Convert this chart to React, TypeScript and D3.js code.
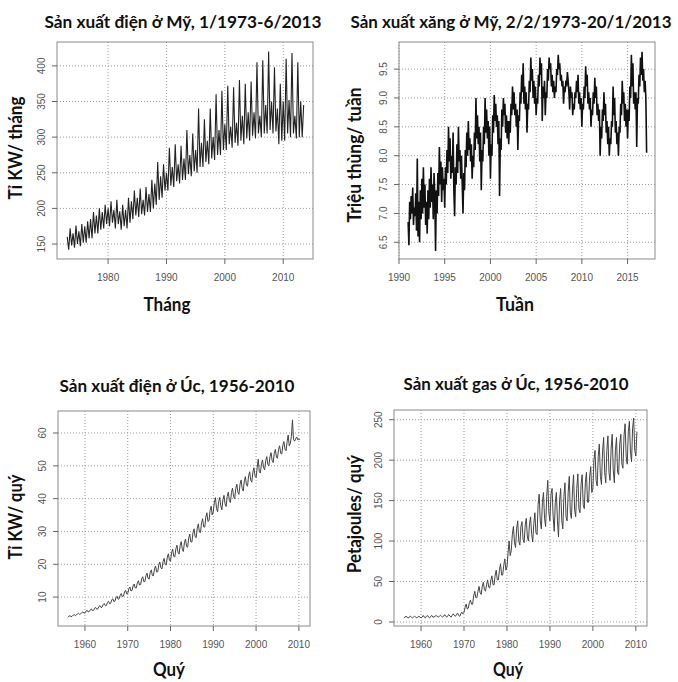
import React from 'react';
import * as d3 from 'd3';

// US electricity, quarterly samples (Jan, Apr, Jul, Oct) from 1973
const elecUS = [
  160, 142, 172, 148, 165, 145, 176, 150, 168, 147, 178, 152, 175, 152, 182, 158,
  185, 158, 195, 165, 190, 165, 200, 170, 195, 172, 205, 178, 200, 175, 210, 180,
  198, 172, 212, 178, 196, 170, 205, 175, 198, 172, 215, 180, 210, 185, 225, 190,
  215, 188, 228, 192, 212, 190, 230, 195, 220, 195, 240, 200, 235, 205, 265, 212,
  245, 215, 262, 225, 250, 225, 285, 232, 258, 230, 290, 238, 262, 235, 288, 240,
  270, 240, 310, 248, 275, 245, 305, 252, 282, 250, 340, 258, 292, 258, 325, 265,
  295, 262, 340, 270, 300, 268, 360, 275, 310, 275, 365, 282, 318, 282, 372, 290,
  315, 285, 370, 292, 320, 288, 380, 295, 330, 290, 375, 298, 335, 295, 378, 302,
  335, 298, 405, 305, 330, 300, 408, 305, 345, 305, 420, 310, 350, 305, 398, 308,
  340, 290, 375, 295, 350, 295, 410, 305, 352, 300, 418, 305, 330, 298, 405, 300,
  350, 300, 345,
];

// US gasoline, monthly samples from 1991
const gasUS = [
  6.85, 6.45, 7.2, 6.9, 7.3, 7.0, 7.45, 6.8, 7.1, 6.95, 7.35, 6.7,
  7.95, 6.6, 7.2, 6.5, 7.4, 6.9, 7.6, 7.0, 7.8, 7.1, 7.5, 6.8,
  7.2, 6.65, 7.4, 6.9, 7.6, 7.1, 7.8, 7.2, 7.5, 6.9, 7.7, 7.3,
  6.35, 7.4, 7.0, 7.7, 7.3, 8.15, 7.5, 7.9, 7.2, 7.8, 7.4, 7.6,
  7.1, 7.8, 7.5, 8.1, 7.7, 8.5, 7.9, 8.3, 7.6, 8.0, 7.7, 8.4,
  7.4, 6.95, 7.8, 7.5, 8.2, 7.7, 8.5, 7.9, 8.1, 7.6, 8.0, 7.5,
  7.0, 7.7, 7.4, 8.1, 7.8, 8.4, 8.0, 8.6, 8.1, 8.3, 7.9, 8.2,
  7.6, 8.0, 7.8, 8.4, 8.1, 9.0, 8.3, 8.7, 8.2, 8.5, 7.9, 8.4,
  7.4, 8.1, 7.9, 8.5, 8.2, 9.0, 8.4, 8.8, 8.3, 8.6, 8.0, 8.5,
  7.6, 8.2, 8.0, 8.7, 8.4, 9.05, 8.6, 8.9, 8.5, 8.7, 8.2, 8.6,
  7.3, 8.3, 8.1, 8.8, 8.5, 9.0, 8.7, 8.9, 8.4, 8.7, 8.3, 8.6,
  8.2, 8.6, 8.4, 8.9, 8.7, 9.2, 8.8, 9.1, 8.7, 8.9, 8.5, 8.8,
  8.1, 8.7, 8.6, 9.1, 8.9, 9.4, 9.1, 9.6, 8.9, 9.2, 8.8, 9.1,
  8.4, 8.9, 8.8, 9.3, 9.1, 9.7, 9.3, 9.5, 9.0, 9.3, 8.9, 9.2,
  8.7, 9.0, 8.9, 9.4, 9.2, 9.7, 9.4, 9.6, 8.6, 9.2, 9.0, 9.3,
  8.7, 9.1, 9.0, 9.5, 9.3, 9.7, 9.5, 9.6, 9.2, 9.4, 9.1, 9.3,
  9.0, 9.2, 9.1, 9.5, 9.4, 9.75, 9.5, 9.6, 9.3, 9.4, 9.2, 9.3,
  8.9, 9.2, 9.1, 9.3, 9.2, 9.45, 9.3, 9.1, 8.8, 9.2, 9.0, 9.1,
  8.7, 8.9, 8.8, 9.1, 9.0, 9.3, 9.1, 9.4, 8.9, 9.1, 8.8, 9.0,
  8.5, 8.9, 8.8, 9.2, 9.0, 9.55, 9.2, 9.4, 8.9, 9.1, 8.8, 9.0,
  8.5, 8.8, 8.7, 9.1, 8.9, 9.35, 9.0, 9.2, 8.7, 8.9, 8.6, 8.8,
  8.0, 8.5, 8.3, 8.8, 8.6, 9.1, 8.7, 8.9, 8.4, 8.6, 8.2, 8.5,
  8.0, 8.3, 8.2, 8.6, 8.5, 9.2, 8.7, 9.0, 8.4, 8.6, 8.2, 8.4,
  8.0, 8.5, 8.4, 8.9, 8.7, 9.3, 8.9, 9.1, 8.6, 8.9, 8.5, 8.8,
  8.3, 8.8, 8.6, 9.2, 9.0, 9.75, 9.2, 9.6, 8.9, 9.1, 8.8, 9.1,
  8.15, 9.0, 8.9, 9.4, 9.2, 9.7, 9.4, 9.8, 9.3, 9.5, 9.1, 9.3,
  9.0, 8.05,
];

// Australian electricity, quarterly from 1956 Q1
const elecAU = [
  3.85, 4.2, 4.35, 4.05, 4.15, 4.5, 4.65, 4.35, 4.55, 4.9, 5.05, 4.75, 4.9, 5.3, 5.5, 5.15,
  5.2, 5.75, 6.0, 5.5, 5.6, 6.15, 6.4, 5.9, 5.95, 6.6, 6.85, 6.3, 6.4, 7.1, 7.4, 6.8,
  6.95, 7.7, 8.05, 7.4, 7.45, 8.35, 8.75, 7.95, 8.1, 9.1, 9.5, 8.65, 8.75, 9.8, 10.25, 9.35,
  9.5, 10.6, 11.1, 10.15, 10.3, 11.55, 12.1, 11.0, 11.1, 12.5, 13.1, 11.9, 12.0, 13.4, 14.0, 12.8,
  12.8, 14.35, 15.0, 13.7, 13.8, 15.5, 16.2, 14.75, 14.7, 16.5, 17.3, 15.75, 15.5, 17.45, 18.3, 16.6,
  16.5, 18.6, 19.5, 17.7, 17.7, 19.8, 20.7, 18.9, 18.6, 20.85, 21.8, 19.9, 19.8, 22.2, 23.2, 21.15,
  21.0, 23.5, 24.6, 22.45, 22.2, 24.7, 25.8, 23.65, 23.1, 25.75, 26.9, 24.6, 23.9, 26.55, 27.7, 25.4,
  25.2, 28.0, 29.2, 26.8, 26.8, 29.6, 30.8, 28.4, 28.1, 31.05, 32.3, 29.8, 29.7, 32.65, 33.9, 31.4,
  31.3, 34.4, 35.7, 33.05, 33.3, 36.4, 37.7, 35.05, 36.0, 38.9, 40.3, 37.0, 36.0, 39.1, 40.4, 37.8,
  36.6, 39.7, 41.0, 38.4, 37.6, 40.7, 42.0, 39.4, 38.8, 41.9, 43.2, 40.6, 40.0, 43.1, 44.4, 41.8,
  41.3, 44.4, 45.7, 43.1, 42.3, 45.4, 46.7, 44.1, 43.8, 46.9, 48.2, 45.6, 45.0, 48.1, 49.4, 46.8,
  46.4, 49.4, 52.0, 48.2, 47.8, 50.6, 51.8, 49.4, 48.8, 51.6, 52.8, 50.4, 50.0, 52.8, 54.0, 51.6,
  51.0, 53.8, 55.0, 52.6, 52.3, 55.0, 56.1, 53.8, 53.6, 56.3, 57.4, 55.1, 54.6, 57.3, 59.4, 56.1,
  56.8, 59.0, 64.0, 58.0, 57.5, 58.3, 58.8, 57.9, 58.2, 58.0,
];

// Australian gas, quarterly from 1956 Q1
const gasAU = [
  5, 6, 7, 6, 5, 6, 7, 6, 5, 6, 7, 6, 5, 6, 7, 6,
  5, 6, 8, 6, 5, 7, 8, 6, 5, 7, 8, 6, 6, 7, 8, 7,
  6, 7, 8, 7, 6, 7, 9, 7, 6, 8, 9, 7, 6, 8, 10, 8,
  7, 9, 11, 8, 7, 10, 12, 10, 12, 18, 22, 16, 17, 24, 27, 22,
  22, 32, 38, 30, 30, 38, 44, 36, 34, 44, 49, 40, 38, 46, 52, 43,
  42, 52, 57, 46, 46, 58, 64, 52, 52, 64, 72, 58, 58, 70, 78, 64,
  68, 85, 100, 82, 88, 108, 118, 98, 92, 115, 125, 100, 95, 118, 124, 102,
  98, 120, 128, 105, 100, 122, 130, 108, 99, 122, 135, 110, 108, 145, 158, 125,
  115, 148, 160, 128, 118, 155, 175, 135, 125, 158, 165, 130, 112, 148, 160, 125,
  105, 150, 165, 125, 115, 155, 172, 130, 125, 160, 180, 135, 128, 162, 182, 138,
  130, 165, 183, 140, 135, 170, 182, 145, 140, 172, 185, 148, 148, 180, 192, 160,
  165, 200, 212, 175, 168, 205, 220, 180, 170, 210, 228, 185, 172, 212, 230, 185,
  175, 215, 232, 188, 172, 212, 228, 185, 182, 220, 232, 195, 190, 230, 245, 205,
  195, 235, 248, 210, 198, 240, 252, 212, 205, 235,
];

const elecUSTicksX = [1980, 1990, 2000, 2010];
const elecUSTicksY = [150, 200, 250, 300, 350, 400];
const gasUSTicksX = [1990, 1995, 2000, 2005, 2010, 2015];
const gasUSTicksY = [6.5, 7.0, 7.5, 8.0, 8.5, 9.0, 9.5];
const ausTicksX = [1960, 1970, 1980, 1990, 2000, 2010];
const elecAUTicksY = [10, 20, 30, 40, 50, 60];
const gasAUTicksY = [0, 50, 100, 150, 200, 250];

type PanelProps = {
  box: [number, number, number, number];
  xDomain: [number, number];
  yDomain: [number, number];
  values: number[];
  start: number;
  step: number;
  xTicks: number[];
  yTicks: number[];
  yFmt?: (v: number) => string;
  title: string;
  titleX: number;
  titleY: number;
  titleLen: number;
  yLabel: string;
  yLabelX: number;
  yLabelY: number;
  yLabelLen: number;
  xLabel: string;
  xLabelX: number;
  xLabelY: number;
  xLabelLen: number;
  stroke: string;
  strokeWidth: number;
};

const Panel = (p: PanelProps) => {
  const [x0, y0, x1, y1] = p.box;
  const x = d3.scaleLinear().domain(p.xDomain).range([x0, x1]);
  const y = d3.scaleLinear().domain(p.yDomain).range([y1, y0]);
  const line = d3.line<number>()
    .x((_, i) => x(p.start + i * p.step))
    .y(d => y(d));
  const fmt = p.yFmt || ((v: number) => String(v));
  const bold = { fontFamily: 'Lato, "Open Sans", sans-serif', fontWeight: 700 };
  return (
    <g>
      {/* grid */}
      {p.xTicks.map(t => (
        <line key={'gx' + t} x1={x(t)} x2={x(t)} y1={y0} y2={y1}
          stroke="#9a9a9a" strokeDasharray="1 2" />
      ))}
      {p.yTicks.map(t => (
        <line key={'gy' + t} x1={x0} x2={x1} y1={y(t)} y2={y(t)}
          stroke="#9a9a9a" strokeDasharray="1 2" />
      ))}
      <path d={line(p.values) || ''} fill="none" stroke={p.stroke} strokeWidth={p.strokeWidth} />
      <rect x={x0} y={y0} width={x1 - x0} height={y1 - y0} fill="none" stroke="#8a8a8a" />
      {/* ticks */}
      {p.xTicks.map(t => (
        <g key={'tx' + t}>
          <line x1={x(t)} x2={x(t)} y1={y1} y2={y1 + 5} stroke="#666" />
          <text x={x(t)} y={y1 + 22} textAnchor="middle" fontSize={10}
            fontFamily='"Liberation Sans", Arial, sans-serif' fill="#555">{t}</text>
        </g>
      ))}
      {p.yTicks.map(t => (
        <g key={'ty' + t}>
          <line x1={x0 - 5} x2={x0} y1={y(t)} y2={y(t)} stroke="#666" />
          <text transform={`translate(${x0 - 12},${y(t)}) rotate(-90)`} textAnchor="middle"
            fontSize={10} fontFamily='"Liberation Sans", Arial, sans-serif' fill="#555">{fmt(t)}</text>
        </g>
      ))}
      {/* labels */}
      <text x={p.titleX} y={p.titleY} textAnchor="middle" fontSize={17} style={bold}
        textLength={p.titleLen} lengthAdjust="spacingAndGlyphs" fill="#111">{p.title}</text>
      <text transform={`translate(${p.yLabelX},${p.yLabelY}) rotate(-90)`} textAnchor="middle"
        fontSize={19} style={bold} textLength={p.yLabelLen} lengthAdjust="spacingAndGlyphs"
        fill="#111">{p.yLabel}</text>
      <text x={p.xLabelX} y={p.xLabelY} textAnchor="middle" fontSize={18} style={bold}
        textLength={p.xLabelLen} lengthAdjust="spacingAndGlyphs" fill="#111">{p.xLabel}</text>
    </g>
  );
};

export default function App() {
  return (
    <svg width={678} height={682} style={{ position: 'absolute', left: 0, top: 0, background: '#fff' }}>
      <Panel box={[57, 42, 313, 259]} xDomain={[1971.25, 2015.1]} yDomain={[129, 433.5]}
        values={elecUS} start={1973} step={0.25} xTicks={elecUSTicksX} yTicks={elecUSTicksY}
        title="Sản xuất điện ở Mỹ, 1/1973-6/2013" titleX={183} titleY={28} titleLen={277}
        yLabel="Tỉ KW/ tháng" yLabelX={22} yLabelY={148} yLabelLen={103}
        xLabel="Tháng" xLabelX={167} xLabelY={311} xLabelLen={47} stroke="#222" strokeWidth={1.1} />
      <Panel box={[399, 42, 655, 259]} xDomain={[1990, 2018]} yDomain={[6.21, 9.97]}
        values={gasUS} start={1991} step={1 / 12} xTicks={gasUSTicksX} yTicks={gasUSTicksY}
        yFmt={v => v.toFixed(1)}
        title="Sản xuất xăng ở Mỹ, 2/2/1973-20/1/2013" titleX={511} titleY={28} titleLen={321}
        yLabel="Triệu thùng/ tuần" yLabelX={361} yLabelY={155} yLabelLen={135}
        xLabel="Tuần" xLabelX={515} xLabelY={311} xLabelLen={38} stroke="#111" strokeWidth={1.6} />
      <Panel box={[58, 411, 310, 626]} xDomain={[1953.7, 2012.6]} yDomain={[1.2, 66.7]}
        values={elecAU} start={1956} step={0.25} xTicks={ausTicksX} yTicks={elecAUTicksY}
        title="Sản xuất điện ở Úc, 1956-2010" titleX={177} titleY={392} titleLen={235}
        yLabel="Tỉ KW/ quý" yLabelX={22} yLabelY={517} yLabelLen={85}
        xLabel="Quý" xLabelX={169} xLabelY={676} xLabelLen={32} stroke="#444" strokeWidth={1} />
      <Panel box={[394, 410, 647, 626]} xDomain={[1953.7, 2012.6]} yDomain={[-5, 262]}
        values={gasAU} start={1956} step={0.25} xTicks={ausTicksX} yTicks={gasAUTicksY}
        title="Sản xuất gas ở Úc, 1956-2010" titleX={516} titleY={390} titleLen={225}
        yLabel="Petajoules/ quý" yLabelX={361} yLabelY={514} yLabelLen={118}
        xLabel="Quý" xLabelX={508} xLabelY={676} xLabelLen={30} stroke="#444" strokeWidth={1} />
    </svg>
  );
}
